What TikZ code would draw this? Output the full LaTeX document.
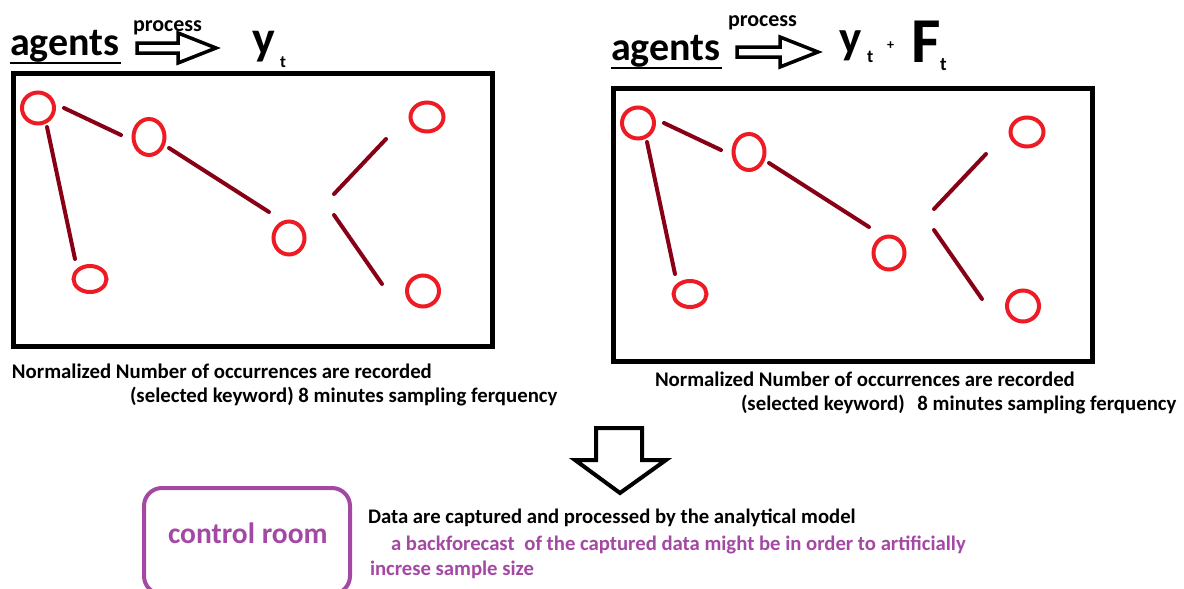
\documentclass[tikz,border=0pt]{standalone}
\usepackage{fontspec}
\setmainfont{Carlito}
\usetikzlibrary{shapes.geometric}
\definecolor{nodered}{RGB}{237,28,36}
\definecolor{linkred}{RGB}{136,0,21}
\definecolor{ctrlpurple}{RGB}{163,73,164}
\newcommand\fs[1]{\fontsize{#1}{#1}\selectfont}
\newcommand\drawnet[1]{%
  \node[vert, minimum width=32, minimum height=31] (#1A) at (38,108) {};
  \node[vert, minimum width=31, minimum height=36] (#1B) at (149,137) {};
  \node[vert, minimum width=31, minimum height=33] (#1C) at (289,238) {};
  \node[vert, minimum width=33, minimum height=26] (#1D) at (90,279) {};
  \node[vert, minimum width=33, minimum height=29] (#1E) at (427,117) {};
  \node[vert, minimum width=32, minimum height=31] (#1F) at (423,291) {};
  \coordinate (#1ab1) at (64,108);  \coordinate (#1ab2) at (121,135);
  \coordinate (#1ad1) at (47,127);  \coordinate (#1ad2) at (75,259);
  \coordinate (#1bc1) at (169,148); \coordinate (#1bc2) at (269,212);
  \coordinate (#1e1) at (334,194);  \coordinate (#1e2) at (386,139);
  \coordinate (#1f1) at (334,215);  \coordinate (#1f2) at (382,284);
  \draw[link] (#1ab1) -- (#1ab2);
  \draw[link] (#1ad1) -- (#1ad2);
  \draw[link] (#1bc1) -- (#1bc2);
  \draw[link] (#1e1) -- (#1e2);
  \draw[link] (#1f1) -- (#1f2);
}
\begin{document}
\begin{tikzpicture}[x=1pt,y=-1pt,
  vert/.style={ellipse, draw=nodered, line width=4pt, inner sep=0pt},
  link/.style={draw=linkred, line width=4pt, line cap=round},
  panel/.style={draw=black, line width=5pt, inner sep=0pt, minimum width=479, minimum height=273},
  txt/.style={anchor=base west, inner sep=0pt, outer sep=0pt},
  hollow/.style={draw=black, line width=3.5pt, line join=miter, fill=white},
  uline/.style={draw=black, line width=2.5pt}
]
\useasboundingbox (0,0) rectangle (1184,589);
% ---- left panel
\node[panel] (box1) at (252.5,209.5) {};
\drawnet{L}
\node[txt] (agL) at (10,55) {\fs{40}\bfseries agents};
\coordinate (ulL1) at (10,63); \coordinate (ulL2) at (121,63);
\draw[uline] (ulL1) -- (ulL2);
\node[txt] (prL) at (133,31) {\fs{22}\bfseries process};
\draw[hollow] (137,43) -- (178,43) -- (178,33) -- (216,48) -- (178,63) -- (178,53) -- (137,53) -- cycle;
\node[txt] (yL) at (252,54) {\fs{48}\bfseries y};
\node[txt] (tL) at (280,67) {\fs{17}\bfseries t};
\node[txt] (capL1) at (12,378) {\fs{20.8}\bfseries Normalized Number of occurrences are recorded};
\node[txt] (capL2) at (130,402) {\fs{20.8}\bfseries (selected keyword) 8 minutes sampling ferquency};
% ---- right panel
\begin{scope}[shift={(600,15)}]
\node[panel] (box2) at (252.5,209.5) {};
\drawnet{R}
\end{scope}
\node[txt] (agR) at (611,60) {\fs{40}\bfseries agents};
\coordinate (ulR1) at (611,68); \coordinate (ulR2) at (722,68);
\draw[uline] (ulR1) -- (ulR2);
\node[txt] (prR) at (728,27) {\fs{22}\bfseries process};
\draw[hollow] (737,47) -- (780,47) -- (780,37) -- (818,52) -- (780,67) -- (780,57) -- (737,57) -- cycle;
\node[txt] (yR) at (839,53) {\fs{47}\bfseries y};
\node[txt] (tR) at (867,62) {\fs{18}\bfseries t};
\node[txt] (plR) at (887,49) {\fs{14}\bfseries +};
\node[txt] (FR) at (911,62) {\fs{64}\bfseries F};
\node[txt] (tR2) at (940,70) {\fs{19}\bfseries t};
\node[txt] (capR1) at (655,386) {\fs{20.8}\bfseries Normalized Number of occurrences are recorded};
\node[txt] (capR2) at (741,410) {\fs{20.8}\bfseries (selected keyword)\hspace{8pt} 8 minutes sampling ferquency};
% ---- down arrow
\draw[hollow, line width=4pt] (596,428) -- (642,428) -- (642,460) -- (666,460) -- (620,493) -- (575,460) -- (596,460) -- cycle;
% ---- control room
\node[draw=ctrlpurple, line width=4pt, rounded corners=18pt, minimum width=206, minimum height=106, inner sep=0pt] (ctrl) at (247,541) {};
\node[txt, text=ctrlpurple] (ctrltxt) at (168,543) {\fs{29.5}\bfseries control room};
\node[txt] (dat1) at (368,523) {\fs{20.7}\bfseries Data are captured and processed by the analytical model};
\node[txt, text=ctrlpurple] (dat2) at (391,550) {\fs{20.7}\bfseries a backforecast\hspace{5pt} of the captured data might be in order to artificially};
\node[txt, text=ctrlpurple] (dat3) at (370,575) {\fs{20.7}\bfseries increse sample size};
\end{tikzpicture}
\end{document}
